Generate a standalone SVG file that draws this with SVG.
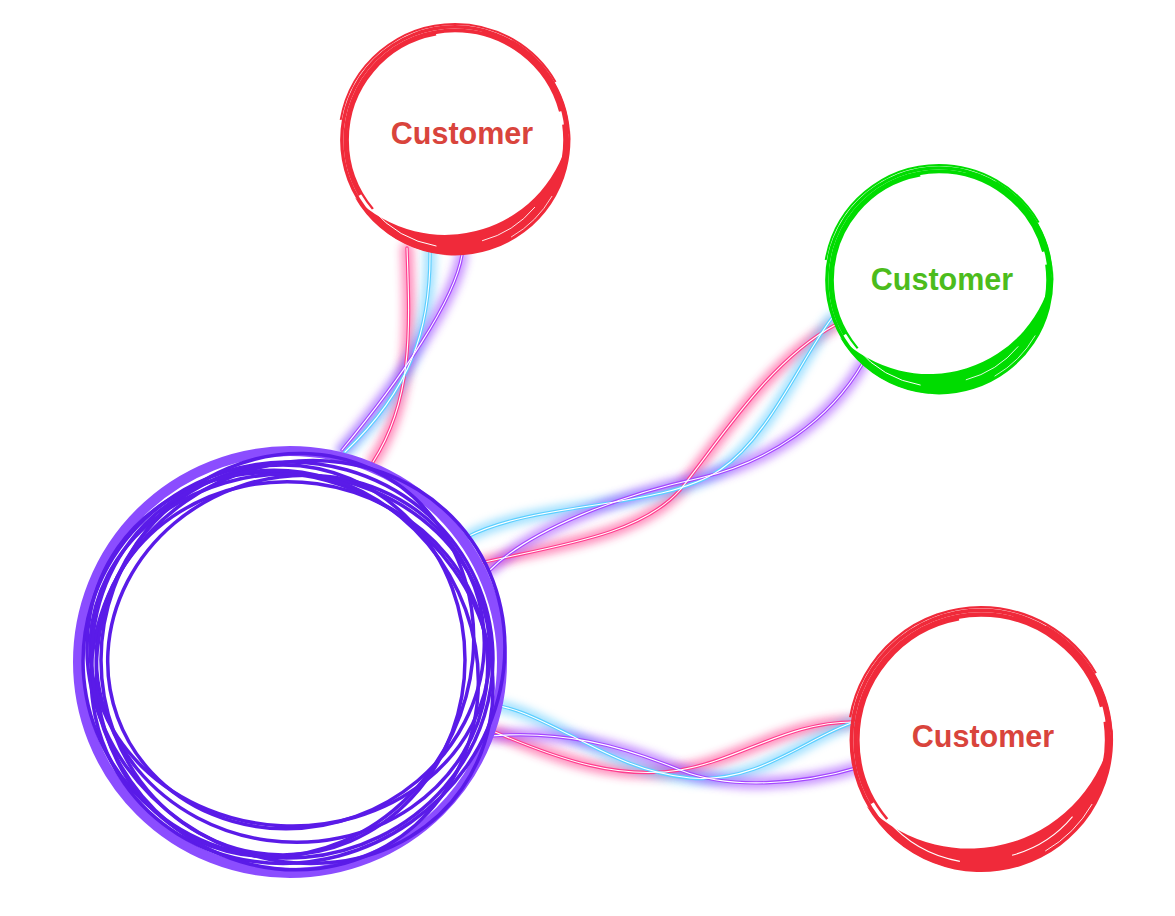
<svg xmlns="http://www.w3.org/2000/svg" xmlns:xlink="http://www.w3.org/1999/xlink" width="1175" height="916" viewBox="0 0 1175 916">
<style>
.bg{fill:#ffffff}
.glow{fill:none;stroke-width:12;opacity:.55;filter:url(#blur);stroke-linecap:round}
.line{fill:none;stroke-width:3.4;stroke-linecap:round}
.core{fill:none;stroke:#ffffff;stroke-width:1.1;stroke-linecap:round}
.pink{stroke:#ff3d8e}
.cyan{stroke:#5ccfff}
.violet{stroke:#a447ff}
.gpink{stroke:#ff2d84}
.gcyan{stroke:#54c8ff}
.gviolet{stroke:#9a38ff}
.label{font-family:"Liberation Sans",Arial,sans-serif;font-weight:bold;font-size:30.5px;text-anchor:middle}
.scrib{fill:none;stroke:#5a1be8;stroke-width:3.5}
.ring{fill:none;stroke:currentColor}
</style>
<defs>
<filter id="blur" x="-30%" y="-30%" width="160%" height="160%"><feGaussianBlur stdDeviation="4.5"/></filter>
<g id="brush">
<circle r="100" fill="#ffffff"/>
<circle class="ring" r="102" stroke-width="3" pathLength="360" stroke-dasharray="262 98" stroke-dashoffset="265"/>
<circle class="ring" r="98.8" stroke-width="3.4" pathLength="360" stroke-dasharray="195 165" stroke-dashoffset="210"/>
<circle class="ring" r="104.6" stroke-width="1.8" pathLength="360" stroke-dasharray="140 220" stroke-dashoffset="170"/>
<circle class="ring" r="96.6" stroke-width="2" pathLength="360" stroke-dasharray="120 240" stroke-dashoffset="220"/>
<circle class="ring" r="100.4" stroke-width="2.6" pathLength="360" stroke-dasharray="75 285" stroke-dashoffset="75"/>
<circle class="ring" r="103" stroke-width="1.6" pathLength="360" stroke-dasharray="60 300" stroke-dashoffset="60"/>
<circle class="ring" r="100" stroke-width="5" pathLength="360" stroke-dasharray="45 315" stroke-dashoffset="8"/>
<path fill="currentColor" d="M103.6,-9.06 A104,104 0 0 1 -90.07,52 A114.5,114.5 0 0 0 103.6,-9.06Z"/>
<circle r="97" fill="none" stroke="#ffffff" stroke-width="0.9" pathLength="360" stroke-dasharray="40 320" stroke-dashoffset="260"/>
<circle r="101" fill="none" stroke="#ffffff" stroke-width="0.7" pathLength="360" stroke-dasharray="30 330" stroke-dashoffset="330"/>
<circle r="94" fill="none" stroke="#ffffff" stroke-width="0.8" pathLength="360" stroke-dasharray="35 325" stroke-dashoffset="320"/>
</g>
<path id="p-top-pink" d="M407,248 C410,330 413,400 373,462"/>
<path id="p-top-cyan" d="M430,250 C431,330 410,390 345,452"/>
<path id="p-top-violet" d="M462,255 C455,300 400,380 342,450"/>
<path id="p-mid-cyan" d="M467,537 C540,500 660,510 720,470 C770,436 800,360 832,318"/>
<path id="p-mid-pink" d="M480,563 C560,545 640,535 680,490 C720,440 770,360 835,325"/>
<path id="p-mid-violet" d="M490,570 C530,530 620,495 700,478 C770,462 830,420 863,363"/>
<path id="p-bot-cyan" d="M470,703 C540,700 600,770 690,778 C760,784 810,735 855,722"/>
<path id="p-bot-pink" d="M495,732 C560,760 620,780 680,770 C740,760 790,720 858,722"/>
<path id="p-bot-violet" d="M490,736 C560,730 620,745 680,770 C730,790 800,785 860,767"/>
</defs>
<rect class="bg" x="0" y="0" width="1175" height="916"/>
<g id="connectors">
<g id="edge-hub-top">
<use href="#p-top-pink" class="glow gpink"/><use href="#p-top-cyan" class="glow gcyan"/><use href="#p-top-violet" class="glow gviolet"/>
<use href="#p-top-pink" class="line pink"/><use href="#p-top-cyan" class="line cyan"/><use href="#p-top-violet" class="line violet"/>
<use href="#p-top-pink" class="core"/><use href="#p-top-cyan" class="core"/><use href="#p-top-violet" class="core"/>
</g>
<g id="edge-hub-green">
<use href="#p-mid-pink" class="glow gpink"/><use href="#p-mid-cyan" class="glow gcyan"/><use href="#p-mid-violet" class="glow gviolet"/>
<use href="#p-mid-pink" class="line pink"/><use href="#p-mid-cyan" class="line cyan"/><use href="#p-mid-violet" class="line violet"/>
<use href="#p-mid-pink" class="core"/><use href="#p-mid-cyan" class="core"/><use href="#p-mid-violet" class="core"/>
</g>
<g id="edge-hub-bottom">
<use href="#p-bot-pink" class="glow gpink"/><use href="#p-bot-cyan" class="glow gcyan"/><use href="#p-bot-violet" class="glow gviolet"/>
<use href="#p-bot-pink" class="line pink"/><use href="#p-bot-cyan" class="line cyan"/><use href="#p-bot-violet" class="line violet"/>
<use href="#p-bot-pink" class="core"/><use href="#p-bot-cyan" class="core"/><use href="#p-bot-violet" class="core"/>
</g>
</g>
<g id="hub">
<ellipse cx="290" cy="662" rx="212" ry="211" fill="#ffffff" stroke="#8b4dff" stroke-width="10"/>
<ellipse class="scrib" cx="288" cy="660" rx="205" ry="198" transform="rotate(-5 288 660)"/>
<ellipse class="scrib" cx="292" cy="662" rx="196" ry="180" transform="rotate(8 292 662)"/>
<ellipse class="scrib" cx="285" cy="655" rx="185" ry="205" transform="rotate(25 285 655)"/>
<ellipse class="scrib" cx="296" cy="652" rx="190" ry="175" transform="rotate(-20 296 652)"/>
<ellipse class="scrib" cx="290" cy="668" rx="210" ry="188" transform="rotate(35 290 668)" stroke-width="3"/>
<ellipse class="scrib" cx="283" cy="660" rx="182" ry="195"/>
<ellipse class="scrib" cx="298" cy="662" rx="212" ry="196" transform="rotate(-35 298 662)"/>
<ellipse class="scrib" cx="290" cy="650" rx="200" ry="176" transform="rotate(3 290 650)" stroke-width="3"/>
<ellipse class="scrib" cx="285" cy="670" rx="203" ry="190" transform="rotate(60 285 670)"/>
</g>
<g id="customer-top">
<use href="#brush" transform="translate(455,140) scale(1.11)" style="color:#f02a3a"/>
<text class="label" x="462" y="144" fill="#d9443c">Customer</text>
</g>
<g id="customer-green">
<use href="#brush" transform="translate(939,280) scale(1.1)" style="color:#00dc00"/>
<text class="label" x="942" y="290" fill="#4cbc1c">Customer</text>
</g>
<g id="customer-bottom">
<use href="#brush" transform="translate(981,740) scale(1.27)" style="color:#f02a3a"/>
<text class="label" x="983" y="747" fill="#d9443c">Customer</text>
</g>
</svg>
